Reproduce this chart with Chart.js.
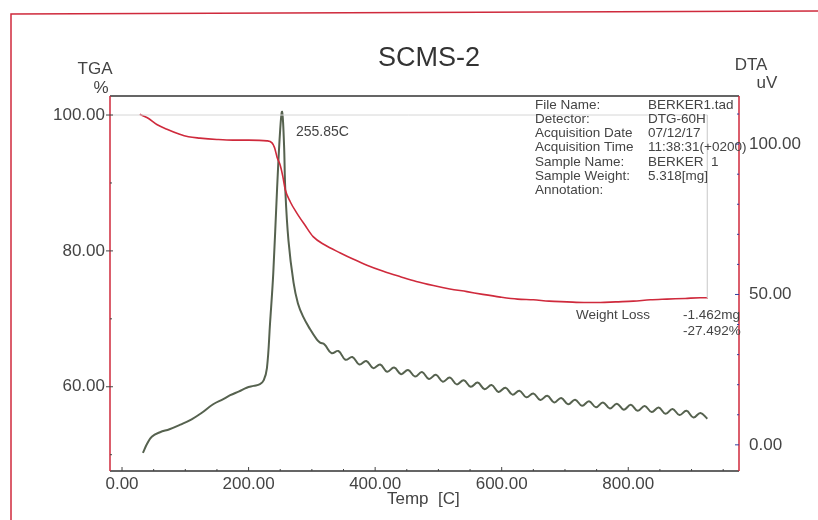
<!DOCTYPE html>
<html>
<head>
<meta charset="utf-8">
<script src="https://cdn.jsdelivr.net/npm/chart.js@4/dist/chart.umd.min.js"></script>
<style>
    html, body { margin: 0; padding: 0; background: #fff; }
    #wrap { width: 818px; height: 520px; position: relative; }
</style>
</head>
<body>
<div id="wrap"><canvas id="chart"></canvas></div>
<script>
// TGA curve (weight %, left axis)
const tgaTemp = [28, 40, 55, 71, 90, 105, 123, 150, 175, 200, 229, 237, 241, 245, 250, 254, 258, 266, 276, 289,
    302, 320, 345, 365, 387, 413, 440, 465, 492, 518, 545, 570, 598, 625, 650, 675, 703, 730, 756, 780,
    808, 835, 861, 890, 914, 926]
const tgaWeight = [100.1, 99.6, 98.6, 97.9, 97.2, 96.8, 96.6, 96.4, 96.3, 96.3, 96.2, 95.9, 95.2, 93.8, 92.6, 91, 89, 87.2, 85.6, 83.8,
    82.1, 80.9, 79.7, 78.8, 77.9, 77.0, 76.2, 75.5, 74.9, 74.4, 74.0, 73.6, 73.2, 72.9, 72.8, 72.6, 72.5, 72.4, 72.4, 72.5,
    72.6, 72.8, 72.9, 73.0, 73.1, 73.1]

// DTA curve (uV, right axis)
const dtaTemp = [33, 40, 47, 60, 75, 92, 110, 125, 144, 160, 171, 185, 197, 208, 218, 224, 229, 234, 239, 245,
    250, 253, 256, 258, 263, 271, 278, 286, 297, 308, 313,
    320, 331, 342, 353, 364, 375, 386, 397, 408, 419, 430, 441, 452, 463, 474, 485, 496, 507, 518, 529,
    540, 551, 562, 573, 584, 595, 606, 617, 628, 639, 650, 661, 672, 683, 694, 705, 716, 727, 738, 749,
    760, 771, 782, 793, 804, 815, 826, 837, 848, 859, 870, 881, 892, 903, 914, 925]
const dtaSignal = [-2.7, 0.5, 2.7, 4.2, 5.2, 6.7, 8.5, 10.5, 13.5, 15.2, 16.5, 17.8, 19, 19.6, 20.2, 21.5, 25.5, 40.7, 57, 85,
    105, 110.7, 100, 85, 68, 54, 47, 42.7, 38.5, 35, 34,
    33.4, 30.5, 31.2, 28.3, 29.2, 26.7, 27.9, 25.5, 26.7, 24.3, 25.7, 23.5, 24.9, 22.7, 24.2, 21.9, 23.3, 21.0, 22.4, 20.1,
    21.5, 19.3, 20.7, 18.5, 19.9, 17.6, 19.0, 16.7, 18.0, 15.8, 17.1, 14.9, 16.3, 14.1, 15.6, 13.5, 15.0, 13.0, 14.5, 12.5,
    14.1, 12.1, 13.7, 11.7, 13.3, 11.3, 12.9, 10.9, 12.4, 10.3, 11.9, 9.9, 11.3, 9.1, 10.6, 8.7]

// weight loss step markers
const stepTemp = [-19, 925, 925]
const stepWeight = [100, 100, 73.1]

const xTicks = [0, 200, 400, 600, 800]
const tgaTicks = [60, 80, 100]
const dtaTicks = [0, 50, 100]

const infoLabels = ['File Name:', 'Detector:', 'Acquisition Date', 'Acquisition Time', 'Sample Name:', 'Sample Weight:', 'Annotation:']
const infoValues = ['BERKER1.tad', 'DTG-60H', '07/12/17', '11:38:31(+0200)', 'BERKER  1', '5.318[mg]', '']

const FONT = '"Liberation Sans", Arial, sans-serif'
const TEXT = '#444'
const RED = '#cf2a3c'

const points = (xs, ys) => xs.map((x, i) => ({ x, y: ys[i] }))
const fixTicks = values => scale => { scale.ticks = values.map(value => ({ value })) }

const decorations = {
    id: 'decorations',
    afterDraw(chart) {
        const { ctx, chartArea: area, scales } = chart
        const { x, y, y1 } = scales

        ctx.save()

        // outer frame of the scanned sheet
        ctx.strokeStyle = RED
        ctx.lineWidth = 1.5
        ctx.beginPath()
        ctx.moveTo(11, 522)
        ctx.lineTo(11, 14)
        ctx.lineTo(818, 11)
        ctx.stroke()

        // plot frame
        ctx.lineWidth = 1.5
        ctx.strokeStyle = '#333'
        ctx.beginPath()
        ctx.moveTo(area.left, area.top)
        ctx.lineTo(area.right, area.top)
        ctx.moveTo(area.left, area.bottom)
        ctx.lineTo(area.right, area.bottom)
        ctx.stroke()

        ctx.strokeStyle = RED
        ctx.beginPath()
        ctx.moveTo(area.left, area.top)
        ctx.lineTo(area.left, area.bottom)
        ctx.moveTo(area.right, area.top)
        ctx.lineTo(area.right, area.bottom)
        ctx.stroke()

        // tick marks
        ctx.lineWidth = 1
        ctx.strokeStyle = '#444'
        ctx.beginPath()
        for (let v = 0; v <= 950; v += 50) {
            const px = x.getPixelForValue(v)
            const len = v % 200 === 0 ? 4 : 2
            ctx.moveTo(px, area.bottom)
            ctx.lineTo(px, area.bottom - len)
        }
        for (let v = 50; v <= 100; v += 10) {
            const py = y.getPixelForValue(v)
            const major = tgaTicks.includes(v)
            ctx.moveTo(major ? area.left - 4 : area.left, py)
            ctx.lineTo(area.left + (major ? 3 : 2), py)
        }
        ctx.stroke()

        ctx.strokeStyle = '#3340a0'
        ctx.beginPath()
        for (let v = 0; v <= 110; v += 10) {
            const py = y1.getPixelForValue(v)
            ctx.moveTo(area.right, py)
            ctx.lineTo(area.right - (dtaTicks.includes(v) ? 4 : 2), py)
        }
        ctx.stroke()

        // titles
        ctx.fillStyle = '#333'
        ctx.textAlign = 'center'
        ctx.textBaseline = 'middle'
        ctx.font = `27px ${FONT}`
        ctx.fillText('SCMS-2', 429, 59)

        ctx.fillStyle = TEXT
        ctx.font = `17px ${FONT}`
        ctx.fillText('TGA', 95, 69)
        ctx.fillText('%', 101, 88)
        ctx.fillText('DTA', 751, 65)
        ctx.fillText('uV', 767, 83)
        ctx.textAlign = 'left'
        ctx.fillText('Temp  [C]', 387, 499)

        // peak annotation
        ctx.font = `14px ${FONT}`
        ctx.fillText('255.85C', 296, 132)

        // file info
        ctx.font = `13.5px ${FONT}`
        infoLabels.forEach((label, i) => {
            const py = 105 + i * 14.2
            ctx.fillText(label, 535, py)
            ctx.fillText(infoValues[i], 648, py)
        })

        ctx.fillText('Weight Loss', 576, 315)
        ctx.fillText('-1.462mg', 683, 315)
        ctx.fillText('-27.492%', 683, 331)

        ctx.restore()
    }
}

new Chart(document.getElementById('chart'), {
    type: 'line',
    data: {
        datasets: [
            {
                data: points(stepTemp, stepWeight),
                yAxisID: 'y',
                borderColor: '#d6d6d6',
                borderWidth: 1,
                pointRadius: 0,
                tension: 0,
            },
            {
                data: points(tgaTemp, tgaWeight),
                yAxisID: 'y',
                borderColor: RED,
                borderWidth: 1.6,
                pointRadius: 0,
                cubicInterpolationMode: 'monotone',
            },
            {
                data: points(dtaTemp, dtaSignal),
                yAxisID: 'y1',
                borderColor: '#56624f',
                borderWidth: 2,
                pointRadius: 0,
                tension: 0.4,
            },
        ]
    },
    options: {
        responsive: true,
        maintainAspectRatio: false,
        animation: false,
        events: [],
        layout: { padding: { top: 96, left: 0, right: 0, bottom: 0 } },
        plugins: {
            legend: false,
            title: false,
            tooltip: { enabled: false },
        },
        scales: {
            x: {
                type: 'linear',
                min: -19,
                max: 975,
                afterBuildTicks: fixTicks(xTicks),
                afterFit: scale => { scale.height = 49 },
                grid: { display: false, drawTicks: false },
                border: { display: false },
                ticks: {
                    padding: 3,
                    color: TEXT,
                    font: { family: FONT, size: 17 },
                    maxRotation: 0,
                    callback: v => v.toFixed(2),
                },
            },
            y: {
                position: 'left',
                min: 47.6,
                max: 102.8,
                afterBuildTicks: fixTicks(tgaTicks),
                afterFit: scale => { scale.width = 110 },
                grid: { display: false, drawTicks: false },
                border: { display: false },
                ticks: {
                    padding: 5,
                    color: TEXT,
                    font: { family: FONT, size: 17 },
                    callback: v => v.toFixed(2),
                },
            },
            y1: {
                position: 'right',
                min: -8.7,
                max: 116,
                afterBuildTicks: fixTicks(dtaTicks),
                afterFit: scale => { scale.width = 79 },
                grid: { display: false, drawTicks: false },
                border: { display: false },
                ticks: {
                    padding: 10,
                    color: TEXT,
                    font: { family: FONT, size: 17 },
                    callback: v => v.toFixed(2),
                },
            },
        },
    },
    plugins: [decorations],
})
</script>
</body>
</html>
